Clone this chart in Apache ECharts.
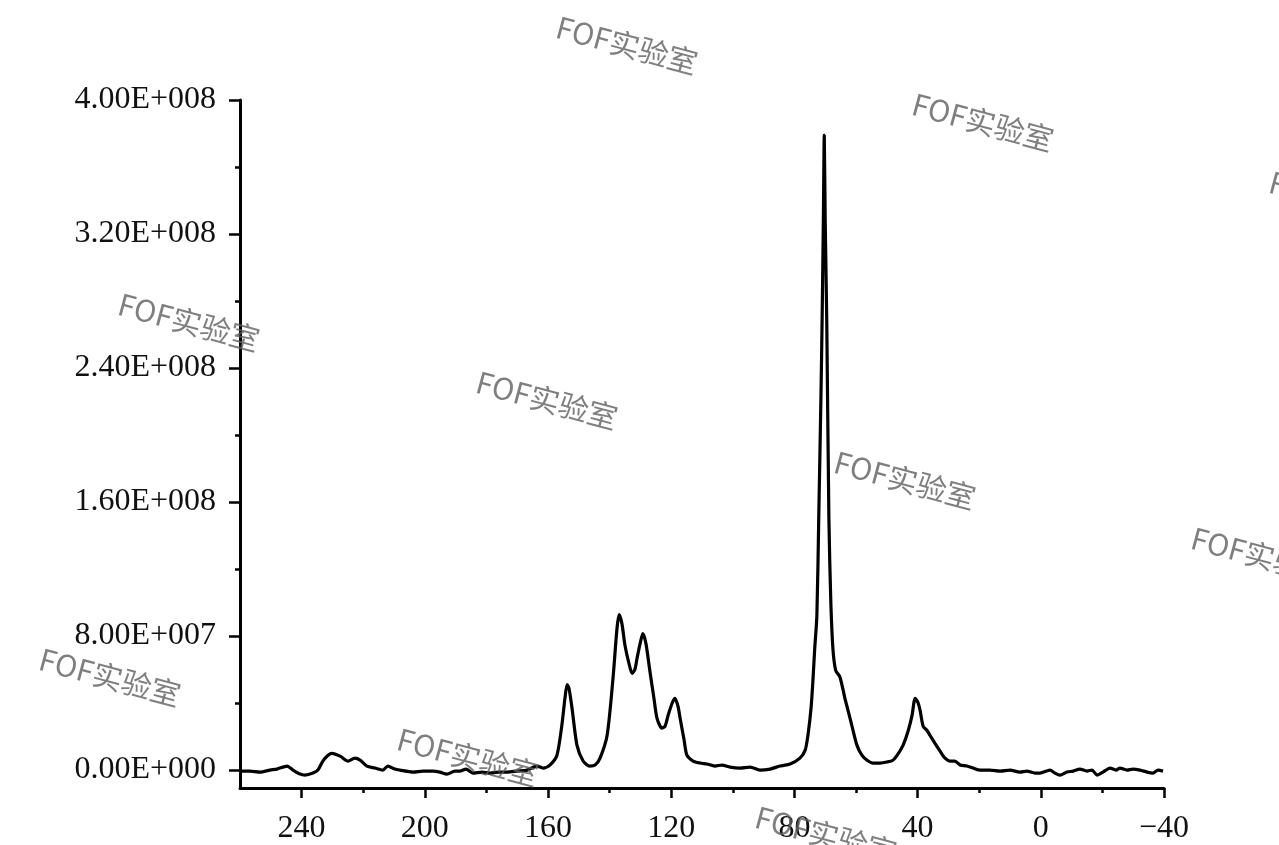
<!DOCTYPE html>
<html>
<head>
<meta charset="utf-8">
<script src="https://cdn.jsdelivr.net/npm/echarts@6/dist/echarts.min.js"></script>
<style>
html,body{margin:0;padding:0;background:#fff;}
#chart{width:1279px;height:845px;}
</style>
</head>
<body>
<div id="chart"></div>
<script>
// Chemical shift (ppm) and intensity (in units of 1e6)
const shift = [260,256.8,253.5,250.3,248.0,244.7,242.8,240.5,238.9,236.3,234.7,233.1,231.4,230.1,227.5,224.9,222.7,221.0,218.8,216.2,213.6,212.0,209.7,208.1,203.8,200.6,197.3,195.1,192.8,190.2,188.6,186.6,184.4,181.4,178.8,176.2,173.3,170.1,166.8,163.6,161.6,159.4,157.1,155.5,154.5,153.8,153.2,152.2,150.6,148.6,146.4,144.7,143.1,140.8,138.9,137.6,136.9,136.0,135.0,133.7,132.7,131.8,131.1,130.1,129.2,128.2,126.9,125.6,124.6,123.0,122.0,121.0,119.7,118.8,117.8,117.1,115.8,114.9,112.9,110.6,108.4,105.8,103.5,100.9,97.7,94.4,91.2,87.9,84.7,81.4,78.2,76.5,75.6,74.6,74.0,73.4,72.7,72.1,71.4,71.0,70.6,70.3,70.0,69.5,68.8,68.2,67.5,66.6,65.3,64.3,63.6,62.6,61.3,59.7,58.1,56.4,54.5,52.2,50.0,48.0,46.4,44.7,43.1,41.8,40.8,39.9,39.2,38.2,37.0,36.0,34.4,32.7,31.1,29.5,27.9,26.2,24.0,22.0,19.7,16.5,13.2,10.0,6.8,4.5,1.9,0.3,-3.0,-4.6,-6.2,-8.5,-10.5,-12.7,-15.0,-16.6,-18.3,-20.2,-22.5,-24.4,-25.7,-28.0,-29.9,-32.2,-34.5,-36.4,-38.1,-39.7];
const intensityM = [-0.6,-0.6,-1.2,0,0.6,2.4,0,-2.4,-3.0,-1.8,0,5.4,8.9,10.0,8.3,5.4,7.1,5.9,2.4,1.2,0,2.4,0.6,0,-1.2,-0.6,-0.6,-1.2,-2.4,-0.6,-0.6,0.6,-1.8,-1.2,-1.8,-1.2,-1.2,-0.6,0,2.4,1.2,3.0,8.9,26.8,42.8,51.0,49.0,36.9,14.9,5.4,2.4,3.0,7.1,20.8,54.7,84.5,92.8,87.4,74.4,63.6,57.7,60.0,66.6,75.5,81.5,75.5,58.9,42.8,30.9,25.0,26.2,32.7,39.9,42.8,38.1,30.9,17.8,8.9,5.4,4.2,3.6,2.4,3.0,1.8,1.2,1.8,0,0.6,2.4,3.6,7.1,11.9,20.8,36.9,52.9,72.6,92.2,150,221,269,328,379,328,269,150,102,72.6,59.5,55.9,48.8,42.8,35.7,26.2,14.9,8.9,5.9,4.2,4.2,4.8,5.9,9.5,14.9,23.2,32.7,42.8,40.4,35.7,26.2,23.8,20.8,16.1,11.3,7.1,5.4,5.4,3.0,2.4,1.2,0,0,-0.6,0,-1.2,-0.6,-1.8,-1.8,0,-1.8,-3.0,-1.2,-0.6,0.6,-0.6,0,-3.0,-1.2,1.2,0,1.2,0,0.6,0,-1.2,-1.8,0,-0.6];

const yTickValues = [0, 8e7, 1.6e8, 2.4e8, 3.2e8, 4e8];
const yTickLabels = ['0.00E+000','8.00E+007','1.60E+008','2.40E+008','3.20E+008','4.00E+008'];
const yMinorTicks = [4e7, 1.2e8, 2e8, 2.8e8, 3.6e8];
const xTickValues = [240, 200, 160, 120, 80, 40, 0, -40];
const xTickLabels = ['240','200','160','120','80','40','0','\u221240'];
const xMinorTicks = [220, 180, 140, 100, 60, 20, -20];
const watermarkText = 'FOF实验室';

const watermarkPos = [[627,45],[983,122],[1340,200],[189,322],[547,400],[905,480],[1262,556],[110,677],[468,757],[826,835]];

const data = shift.map((s, i) => [s, intensityM[i] * 1e6]);

const labelFont = 'Liberation Serif';
const chart = echarts.init(document.getElementById('chart'));

const yMin = -10.7e6, yMax = 4e8;
const option = {
  backgroundColor: '#fff',
  animation: false,
  grid: {left: 240, right: 115, top: 100, bottom: 55},
  xAxis: [{
    type: 'value', inverse: true, min: -40, max: 260,
    axisLine: {show: true, onZero: false, lineStyle: {color: '#000', width: 3}},
    axisTick: {show: true, customValues: xTickValues, length: 10, lineStyle: {color: '#000', width: 2.5}},
    axisLabel: {customValues: xTickValues, margin: 25, color: '#111', fontFamily: labelFont, fontSize: 32,
      formatter: v => xTickLabels[xTickValues.indexOf(v)]},
    splitLine: {show: false}
  }, {
    type: 'value', inverse: true, min: -40, max: 260, position: 'bottom',
    axisLine: {show: false, onZero: false},
    axisTick: {show: true, customValues: xMinorTicks, length: 5, lineStyle: {color: '#000', width: 2.5}},
    axisLabel: {show: false},
    splitLine: {show: false}
  }],
  yAxis: [{
    type: 'value', min: yMin, max: yMax,
    axisLine: {show: true, onZero: false, lineStyle: {color: '#000', width: 3}},
    axisTick: {show: true, customValues: yTickValues, length: 11, lineStyle: {color: '#000', width: 2.5}},
    axisLabel: {customValues: yTickValues, margin: 24, color: '#111', fontFamily: labelFont, fontSize: 32,
      formatter: v => yTickLabels[yTickValues.indexOf(v)]},
    splitLine: {show: false}
  }, {
    type: 'value', min: yMin, max: yMax, position: 'left',
    axisLine: {show: false, onZero: false},
    axisTick: {show: true, customValues: yMinorTicks, length: 5, lineStyle: {color: '#000', width: 2.5}},
    axisLabel: {show: false},
    splitLine: {show: false}
  }],
  series: [{
    type: 'line', data: data, xAxisIndex: 0, yAxisIndex: 0,
    showSymbol: false, smooth: 0.25,
    lineStyle: {color: '#000', width: 3.2}
  }],
  graphic: watermarkPos.map(p => ({
    type: 'text', x: p[0], y: p[1], rotation: -15 * Math.PI / 180, z: 100,
    style: {text: watermarkText, fill: 'rgba(95,95,95,0.8)', font: '30px "Noto Sans CJK SC", "Noto Sans"',
      align: 'center', verticalAlign: 'middle'}
  }))
};
chart.setOption(option);
</script>
</body>
</html>
